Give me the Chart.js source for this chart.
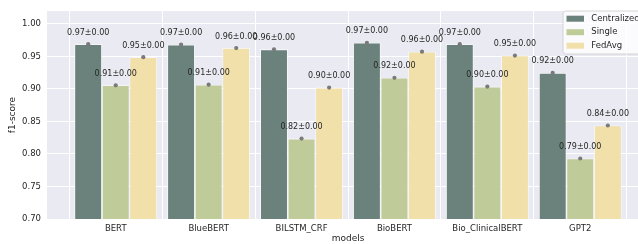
<!DOCTYPE html>
<html>
<head>
<meta charset="utf-8">
<script src="https://cdn.jsdelivr.net/npm/chart.js@4.4.1/dist/chart.umd.min.js"></script>
<style>
  html, body { margin: 0; padding: 0; background: #ffffff; overflow: hidden; }
  #wrap { width: 660px; height: 244px; position: relative; }
</style>
</head>
<body>
<div id="wrap"><canvas id="c"></canvas></div>
<script>
const categories = ['BERT', 'BlueBERT', 'BILSTM_CRF', 'BioBERT', 'Bio_ClinicalBERT', 'GPT2'];
const seriesNames = ['Centralized', 'Single', 'FedAvg'];
const centralized = [0.9688, 0.968, 0.9608, 0.9709, 0.9688, 0.9246];
const single      = [0.9055, 0.9065, 0.8236, 0.9171, 0.9035, 0.793];
const fedavg      = [0.9488, 0.9628, 0.902, 0.9573, 0.9513, 0.8437];
const stdCentralized = [0, 0, 0, 0, 0, 0];
const stdSingle      = [0, 0, 0, 0, 0, 0];
const stdFedavg      = [0, 0, 0, 0, 0, 0];
const yTicks = [0.70, 0.75, 0.80, 0.85, 0.90, 0.95, 1.00];

const colors = ['#6b817b', '#bfcc99', '#f1e0a9'];
const seriesValues = [centralized, single, fedavg];
const seriesStd = [stdCentralized, stdSingle, stdFedavg];
const FONT = "'DejaVu Sans', sans-serif";
const TXT = '#262626';

const datasets = seriesNames.map((name, k) => ({
  label: name,
  data: categories.map((c, i) => ({ x: i, y: seriesValues[k][i] })),
  std: seriesStd[k],
  backgroundColor: colors[k],
  borderColor: 'rgba(255,255,255,0.9)',
  borderWidth: 0.8,
  categoryPercentage: 0.89,
  barPercentage: 1.0
}));

const bgPlugin = {
  id: 'bg',
  beforeDraw(chart) {
    const { ctx, chartArea: a } = chart;
    ctx.save();
    ctx.fillStyle = '#eaeaf2';
    ctx.fillRect(a.left, a.top, a.right - a.left, a.bottom - a.top);
    ctx.restore();
  }
};

const labelPlugin = {
  id: 'vals',
  afterDatasetsDraw(chart) {
    const ctx = chart.ctx;
    ctx.save();
    chart.data.datasets.forEach((ds, k) => {
      const meta = chart.getDatasetMeta(k);
      meta.data.forEach((el, i) => {
        ctx.fillStyle = '#7a7a7a';
        ctx.beginPath();
        ctx.arc(el.x, el.y, 2.1, 0, Math.PI * 2);
        ctx.fill();
        const v = ds.data[i].y;
        const s = ds.std[i];
        ctx.fillStyle = TXT;
        ctx.font = '8px ' + FONT;
        ctx.textAlign = 'center';
        ctx.textBaseline = 'middle';
        ctx.fillText(v.toFixed(2) + '±' + s.toFixed(2), el.x, el.y - 11.5);
      });
    });
    ctx.restore();
  }
};

const legendPlugin = {
  id: 'lg',
  afterDraw(chart) {
    const ctx = chart.ctx;
    ctx.save();
    const x = 563, y = 11, w = 90, h = 43, r = 2.5;
    ctx.beginPath();
    ctx.moveTo(x + r, y);
    ctx.lineTo(x + w - r, y);
    ctx.arcTo(x + w, y, x + w, y + r, r);
    ctx.lineTo(x + w, y + h - r);
    ctx.arcTo(x + w, y + h, x + w - r, y + h, r);
    ctx.lineTo(x + r, y + h);
    ctx.arcTo(x, y + h, x, y + h - r, r);
    ctx.lineTo(x, y + r);
    ctx.arcTo(x, y, x + r, y, r);
    ctx.closePath();
    ctx.fillStyle = 'rgba(255,255,255,0.8)';
    ctx.fill();
    ctx.strokeStyle = '#cccccc';
    ctx.lineWidth = 0.8;
    ctx.stroke();
    chart.data.datasets.forEach((ds, k) => {
      const cy = 18.7 + k * 13.5;
      ctx.fillStyle = ds.backgroundColor;
      ctx.fillRect(566.5, cy - 3, 17.5, 6);
      ctx.fillStyle = TXT;
      ctx.font = '8.5px ' + FONT;
      ctx.textAlign = 'left';
      ctx.textBaseline = 'middle';
      ctx.fillText(ds.label, 591.3, cy);
    });
    ctx.restore();
  }
};

new Chart(document.getElementById('c'), {
  type: 'bar',
  data: { datasets },
  plugins: [bgPlugin, labelPlugin, legendPlugin],
  options: {
    responsive: true,
    maintainAspectRatio: false,
    animation: false,
    layout: { padding: { top: 7, right: 11, left: 0, bottom: 0 } },
    plugins: { legend: { display: false }, tooltip: { enabled: false } },
    scales: {
      x: {
        type: 'linear',
        min: -0.74,
        max: 5.74,
        offset: false,
        afterBuildTicks(axis) { axis.ticks = categories.map((c, i) => ({ value: i })); },
        afterFit(axis) { axis.height = 25; },
        ticks: {
          callback: (v) => categories[v],
          color: TXT,
          font: { family: FONT, size: 8.5 },
          padding: 5,
          maxRotation: 0,
          autoSkip: false
        },
        grid: { color: '#ffffff', lineWidth: 1, drawTicks: false },
        border: { display: false },
        title: { display: true, text: 'models', color: TXT, font: { family: FONT, size: 9 }, padding: { top: 0, bottom: 0 } }
      },
      y: {
        min: 0.70,
        max: 1.0196,
        afterBuildTicks(axis) { axis.ticks = yTicks.map(v => ({ value: v })); },
        afterFit(axis) { axis.width = 47; },
        ticks: {
          callback: (v) => v.toFixed(2),
          color: TXT,
          font: { family: FONT, size: 8.5 },
          padding: 6
        },
        grid: { color: '#ffffff', lineWidth: 1, drawTicks: false },
        border: { display: false },
        title: { display: true, text: 'f1-score', color: TXT, font: { family: FONT, size: 9 }, padding: { top: 7, bottom: 0 } }
      }
    }
  }
});
</script>
</body>
</html>
